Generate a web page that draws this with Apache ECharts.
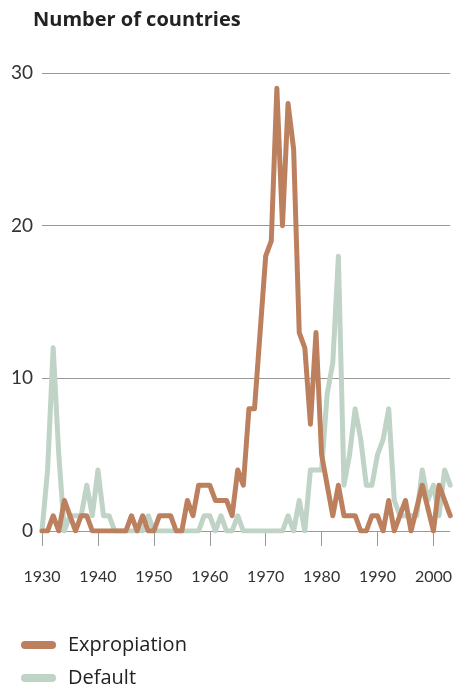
<!DOCTYPE html>
<html>
<head>
<meta charset="utf-8">
<script src="https://cdn.jsdelivr.net/npm/echarts@6/dist/echarts.min.js"></script>
<style>
html, body { margin: 0; padding: 0; background: #fff; }
#main { width: 455px; height: 688px; }
</style>
</head>
<body>
<div id="main"></div>
<script>
var years = [1930, 1931, 1932, 1933, 1934, 1935, 1936, 1937, 1938, 1939,
  1940, 1941, 1942, 1943, 1944, 1945, 1946, 1947, 1948, 1949,
  1950, 1951, 1952, 1953, 1954, 1955, 1956, 1957, 1958, 1959,
  1960, 1961, 1962, 1963, 1964, 1965, 1966, 1967, 1968, 1969,
  1970, 1971, 1972, 1973, 1974, 1975, 1976, 1977, 1978, 1979,
  1980, 1981, 1982, 1983, 1984, 1985, 1986, 1987, 1988, 1989,
  1990, 1991, 1992, 1993, 1994, 1995, 1996, 1997, 1998, 1999,
  2000, 2001, 2002, 2003];

var expropiation = [0, 0, 1, 0, 2, 1, 0, 1, 1, 0,
  0, 0, 0, 0, 0, 0, 1, 0, 1, 0,
  0, 1, 1, 1, 0, 0, 2, 1, 3, 3,
  3, 2, 2, 2, 1, 4, 3, 8, 8, 13,
  18, 19, 29, 20, 28, 25, 13, 12, 7, 13,
  5, 3, 1, 3, 1, 1, 1, 0, 0, 1,
  1, 0, 2, 0, 1, 2, 0, 1.5, 3, 1.5,
  0, 3, 2, 1];

var defaults = [0, 4, 12, 5, 0, 1, 1, 1, 3, 1,
  4, 1, 1, 0, 0, 0, 0, 0, 0, 1,
  0, 0, 0, 0, 0, 0, 0, 0, 0, 1,
  1, 0, 1, 0, 0, 1, 0, 0, 0, 0,
  0, 0, 0, 0, 1, 0, 2, 0, 4, 4,
  4, 9, 11, 18, 3, 5, 8, 6, 3, 3,
  5, 6, 8, 2, 1, 1, 1, 1, 4, 2,
  3, 1, 4, 3];

var yTicks = [0, 10, 20, 30];

function pairs(vals) {
  var out = [];
  for (var i = 0; i < years.length; i++) out.push([years[i], vals[i]]);
  return out;
}

var chartDom = document.getElementById('main');
var myChart = echarts.init(chartDom);
var option;

option = {
  animation: false,
  title: {
    text: 'Number of countries',
    left: 33,
    top: 10,
    padding: 0,
    textStyle: {
      color: '#222',
      fontSize: 20,
      fontWeight: 'bold',
      fontFamily: 'Open Sans'
    }
  },
  legend: {
    orient: 'vertical',
    left: 21,
    top: 634,
    height: 80,
    padding: 0,
    itemWidth: 35,
    itemHeight: 8,
    itemGap: 11,
    // pill shaped swatch
    icon: 'path://M4,0 H31 A4,4 0 0 1 31,8 H4 A4,4 0 0 1 4,0 Z',
    data: ['Expropiation', 'Default'],
    textStyle: {
      color: '#222',
      fontSize: 20,
      lineHeight: 22,
      padding: [0, 0, 0, 7],
      fontFamily: 'Open Sans'
    }
  },
  grid: {
    left: 42,
    right: 0,
    top: 73,
    bottom: 157,
    containLabel: false
  },
  xAxis: {
    type: 'value',
    min: 1930,
    max: 2003,
    interval: 10,
    offset: 12,
    axisLine: { show: false },
    axisTick: {
      show: true,
      length: 15,
      lineStyle: { color: '#999', width: 1 }
    },
    axisLabel: {
      margin: 26,
      fontSize: 16,
      color: '#333',
      fontFamily: 'Lato',
      formatter: function (v) { return String(v); }
    },
    splitLine: { show: false }
  },
  yAxis: {
    type: 'value',
    min: yTicks[0],
    max: yTicks[yTicks.length - 1],
    interval: 10,
    axisLine: { show: false },
    axisTick: { show: false },
    axisLabel: {
      margin: 9,
      fontSize: 19,
      color: '#333',
      fontFamily: 'Lato'
    },
    splitLine: { lineStyle: { color: '#999', width: 1 } }
  },
  series: [
    {
      name: 'Default',
      type: 'line',
      data: pairs(defaults),
      showSymbol: false,
      itemStyle: { color: '#BFD3C6' },
      lineStyle: { color: '#BFD3C6', width: 5, join: 'round', cap: 'round' }
    },
    {
      name: 'Expropiation',
      type: 'line',
      data: pairs(expropiation),
      showSymbol: false,
      itemStyle: { color: '#BC805E' },
      lineStyle: { color: '#BC805E', width: 5, join: 'round', cap: 'round' }
    }
  ]
};
option && myChart.setOption(option);
</script>
</body>
</html>
